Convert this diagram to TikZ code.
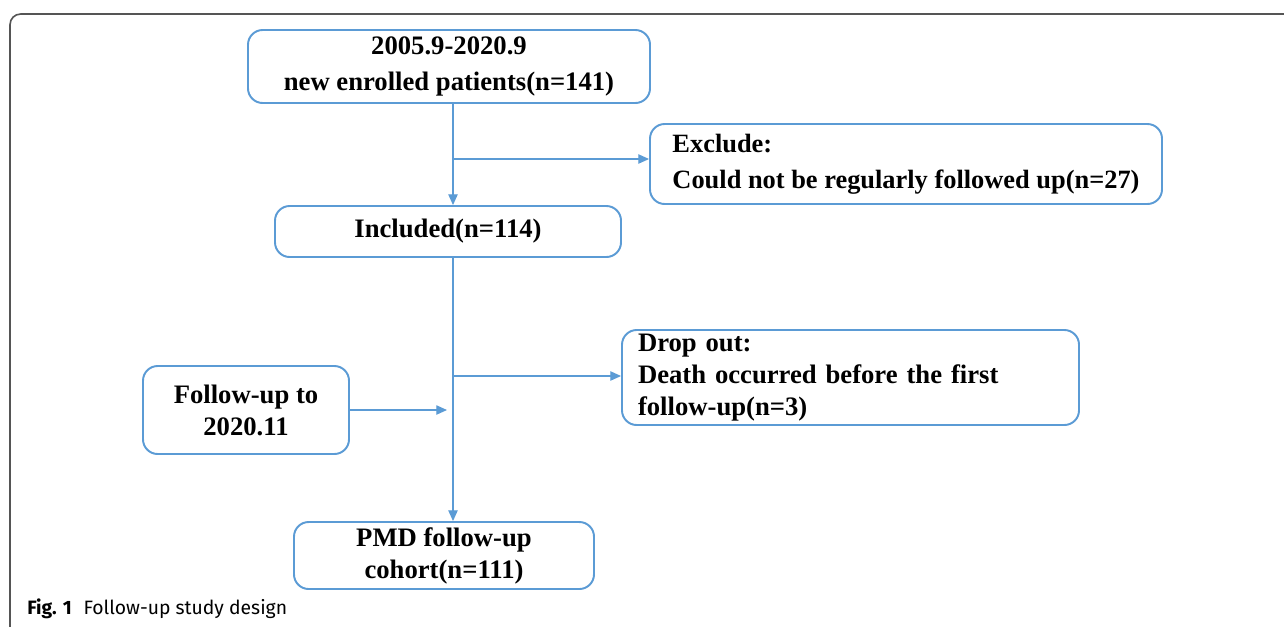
\documentclass[tikz,border=0pt]{standalone}
\usepackage{fontspec}
\setmainfont{Liberation Serif}
\newfontfamily\capfont{Fira Sans}
\usetikzlibrary{arrows.meta}
\definecolor{bl}{RGB}{91,155,213}
\definecolor{fr}{RGB}{85,85,85}
\begin{document}
\begin{tikzpicture}[x=0.75pt,y=-0.75pt,
  bx/.style={draw=bl,line width=1.45pt,rounded corners=11pt,font=\bfseries\fontsize{20pt}{27pt}\selectfont,inner sep=0pt,align=center},
  tight/.style={font=\bfseries\fontsize{20pt}{24pt}\selectfont},
  arr/.style={draw=bl,line width=0.9pt,-{Triangle[length=8pt,width=7pt]}}]
\useasboundingbox (0,0) rectangle (1284,626);
\fill[white] (0,0) rectangle (1284,626);
% outer frame
\draw[fr,line width=1.2pt,rounded corners=8pt] (10,640) -- (10,14) -- (1300,14);
% boxes
\node[bx,minimum width=402*0.75pt,minimum height=73*0.75pt] (b1) at (449,66.5) {2005.9-2020.9\\new enrolled patients(n=141)};
\node[bx,minimum width=512*0.75pt,minimum height=80*0.75pt,align=left,font=\bfseries\fontsize{19.8pt}{27pt}\selectfont] (ex) at (906,164) {Exclude:\\Could not be regularly followed up(n=27)};
\node[bx,minimum width=346*0.75pt,minimum height=51*0.75pt] (b2) at (448,231.5) {Included(n=114)};
\node[bx,tight,minimum width=457*0.75pt,minimum height=95*0.75pt,text width=425*0.75pt,align=left] (dr) at (850.5,377.5) {Drop out:\\Death occurred before the first\\follow-up(n=3)};
\node[bx,tight,minimum width=206*0.75pt,minimum height=88*0.75pt] (fu) at (246,410) {Follow-up to\\2020.11};
\node[bx,tight,minimum width=300*0.75pt,minimum height=67*0.75pt] (b3) at (444,555.5) {PMD follow-up\\cohort(n=111)};
% connectors
\coordinate (tr) at (453,0);
\coordinate (j1) at (453,159);
\coordinate (j2) at (453,376);
\coordinate (j3) at (447,410);
\draw[arr] (b1.south -| tr) -- (b2.north -| tr);
\draw[arr] (j1) -- (j1 -| ex.west);
\draw[arr] (b2.south -| tr) -- (b3.north -| tr);
\draw[arr] (j2) -- (j2 -| dr.west);
\draw[arr] (fu.east) -- (j3);
% caption
\node[anchor=west,inner sep=0pt,font=\capfont\fontsize{14.5pt}{16pt}\selectfont] (cap) at (27,609) {\textbf{Fig. 1}\hspace{0.6em}Follow-up study design};
\end{tikzpicture}
\end{document}
